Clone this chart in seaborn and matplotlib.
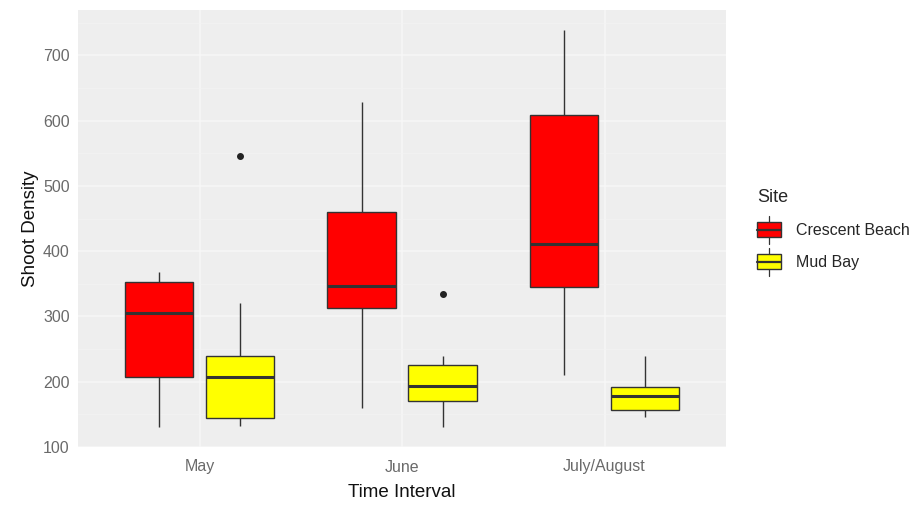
import matplotlib
matplotlib.use("Agg")
import matplotlib.pyplot as plt
import seaborn as sns
import pandas as pd
from matplotlib.ticker import MultipleLocator
from matplotlib.legend_handler import HandlerBase
from matplotlib.patches import Rectangle
from matplotlib.lines import Line2D

months = ["May", "June", "July/August"]
sites = ["Crescent Beach", "Mud Bay"]
site_colors = ["#FF0000", "#FFFF00"]
may_crescent = [131, 180, 207, 260, 305, 330, 353, 360, 368]
may_mud = [132, 138, 144, 180, 207, 225, 239, 320, 546]
june_crescent = [160, 250, 313, 330, 347, 400, 460, 540, 628]
june_mud = [131, 160, 170, 185, 193, 210, 226, 239, 334]
july_crescent = [210, 300, 345, 380, 411, 500, 608, 680, 739]
july_mud = [146, 150, 156, 170, 178, 185, 192, 215, 240]
y_ticks = [100, 200, 300, 400, 500, 600, 700]

groups = {
    ("May", "Crescent Beach"): may_crescent,
    ("May", "Mud Bay"): may_mud,
    ("June", "Crescent Beach"): june_crescent,
    ("June", "Mud Bay"): june_mud,
    ("July/August", "Crescent Beach"): july_crescent,
    ("July/August", "Mud Bay"): july_mud,
}
rows = []
for (m, s), vals in groups.items():
    for v in vals:
        rows.append({"Time Interval": m, "Site": s, "Shoot Density": v})
df = pd.DataFrame(rows)

sns.set_theme(style="white")
plt.rcParams["font.family"] = ["Liberation Sans", "DejaVu Sans"]

fig = plt.figure(figsize=(9.24, 5.05), dpi=100)
ax = fig.add_axes([78 / 924, 1 - 447 / 505, (726 - 78) / 924, (447 - 10) / 505])
ax.set_facecolor("#EEEEEE")

line_c = "#333333"
sns.boxplot(
    data=df, x="Time Interval", y="Shoot Density", hue="Site",
    order=months, hue_order=sites,
    palette=dict(zip(sites, site_colors)),
    width=0.8, gap=0.16, whis=1.5, saturation=1,
    linewidth=1.0, linecolor=line_c,
    boxprops=dict(edgecolor=line_c, linewidth=1.0),
    whiskerprops=dict(color=line_c, linewidth=1.0),
    capprops=dict(linewidth=0),
    medianprops=dict(color=line_c, linewidth=2.2),
    flierprops=dict(marker="o", markerfacecolor="#222222", markeredgecolor="#222222", markersize=4),
    ax=ax, zorder=3, legend=False,
)

ax.set_xlim(-0.6, 2.6)
ax.set_ylim(100.6, 769.4)
ax.set_yticks(y_ticks)
ax.yaxis.set_minor_locator(MultipleLocator(50))
ax.grid(True, which="major", color="#F7F7F7", linewidth=1.1, zorder=0)
ax.grid(True, which="minor", axis="y", color="#F3F3F3", linewidth=0.5, zorder=0)
ax.set_axisbelow(True)
for sp in ax.spines.values():
    sp.set_visible(False)

ax.tick_params(axis="both", which="major", length=3, width=0.8, color="#555555",
               labelsize=11.5, labelcolor="#6A6A6A")
ax.tick_params(axis="x", which="major", pad=6)
ax.tick_params(axis="y", which="major", pad=3)
ax.tick_params(axis="both", which="minor", length=0)
ax.set_xlabel("Time Interval", fontsize=13.5, color="#111111", labelpad=7)
ax.set_ylabel("Shoot Density", fontsize=13.5, color="#111111", labelpad=3)


class BoxKeyHandler(HandlerBase):
    def create_artists(self, legend, orig_handle, xdescent, ydescent,
                       width, height, fontsize, trans):
        fc = orig_handle.get_facecolor()
        cx = -xdescent + width / 2
        y0 = -ydescent
        whisk = Line2D([cx, cx], [y0 - 0.45 * height, y0 + 1.45 * height],
                       color=line_c, linewidth=0.9, transform=trans)
        rect = Rectangle((-xdescent, y0), width, height, facecolor=fc,
                         edgecolor=line_c, linewidth=1.0, transform=trans)
        med = Line2D([-xdescent, -xdescent + width], [y0 + height / 2] * 2,
                     color=line_c, linewidth=1.6, transform=trans)
        return [whisk, rect, med]


handles = [Rectangle((0, 0), 1, 1, facecolor=c) for c in site_colors]
leg = fig.legend(handles, sites, loc="upper left", bbox_to_anchor=(743 / 924, 1 - 175 / 505),
                 frameon=False, title="Site", fontsize=11.5, title_fontsize=13,
                 handlelength=1.5, handleheight=1.05, labelspacing=1.0, handletextpad=0.9,
                 alignment="left", handler_map={Rectangle: BoxKeyHandler()})

fig.savefig("out.png", dpi=100)
